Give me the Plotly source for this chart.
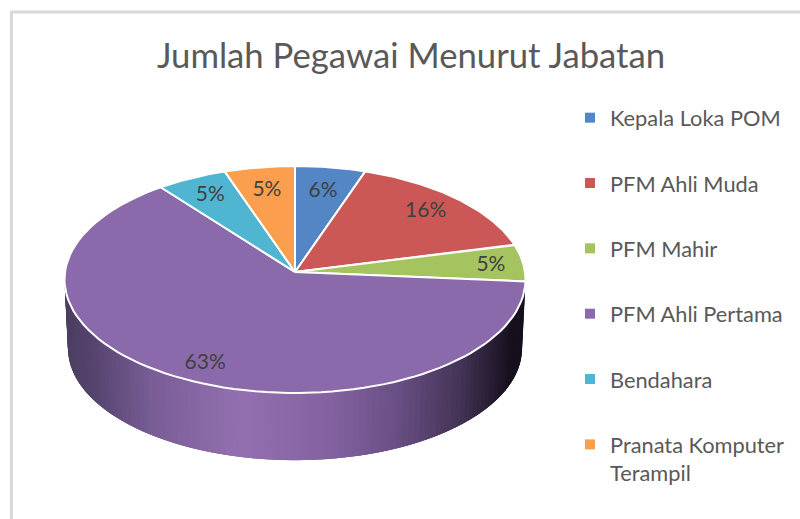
import numpy as np
import plotly.graph_objects as go

# Data
categories = ["Kepala Loka POM", "PFM Ahli Muda", "PFM Mahir", "PFM Ahli Pertama", "Bendahara", "Pranata Komputer<br>Terampil"]
values = [1, 3, 1, 12, 1, 1]
value_labels = ["6%", "16%", "5%", "63%", "5%", "5%"]
colors = ["#5485c4", "#cb5856", "#a5c35f", "#8a6aab", "#50b5d1", "#fb9e4e"]
title = "Jumlah Pegawai Menurut Jabatan"

# Chart geometry (pixel space of the 800x519 canvas)
CX, CY = 295.0, 272.0
A, B, K = 230.0, 113.0, 0.0661
DEPTH, BOTTOM_SCALE = 69.0, 0.985
LABEL_RADIUS = [0.78, 0.80, 0.85, 0.85, 0.80, 0.78]
LABEL_NUDGE_X = [0, 0, 2, 8, -1, 0]
LABEL_NUDGE_Y = [2, -1, 2, 3, 0, 1]
WALL_STOPS = [(64, "#4d3e62"), (90, "#54436c"), (155, "#7a5e98"), (245, "#9470b0"),
              (335, "#8462a2"), (400, "#6a5085"), (465, "#433355"), (515, "#15101c"), (526, "#15101c")]


def project(theta, radius=1.0, scale=1.0, drop=0.0):
    px = radius * np.sin(theta)
    py = radius * np.cos(theta)
    den = 1 + K * py
    return CX + A * scale * px / den, CY + drop - B * scale * py / den


def hex_rgb(h):
    return np.array([int(h[i:i + 2], 16) for i in (1, 3, 5)], dtype=float)


def wall_color(x):
    xs = [s[0] for s in WALL_STOPS]
    rgb = [np.interp(x, xs, [hex_rgb(s[1])[c] for s in WALL_STOPS]) for c in range(3)]
    return "rgb(%d,%d,%d)" % tuple(rgb)


edges = np.concatenate([[0], np.cumsum(values)]) / sum(values) * 2 * np.pi
fig = go.Figure()

# Side wall of the largest slice, shaded in thin overlapping strips
big = int(np.argmax(values))
wall = np.linspace(edges[big], min(edges[big + 1], np.radians(300)), 130)
for i in range(len(wall) - 1):
    t0, t1 = wall[i], wall[min(i + 3, len(wall) - 1)]
    xa, ya = project(np.array([t0, t1]))
    xb, yb = project(np.array([t1, t0]), scale=BOTTOM_SCALE, drop=DEPTH)
    c = wall_color(project(wall[i])[0])
    fig.add_trace(go.Scatter(x=list(xa) + list(xb), y=list(ya) + list(yb), mode="lines", fill="toself",
                             fillcolor=c, line=dict(width=0), showlegend=False, hoverinfo="skip"))

# Top face wedges
for i, cat in enumerate(categories):
    th = np.linspace(edges[i], edges[i + 1], 90)
    ex, ey = project(th)
    fig.add_trace(go.Scatter(x=[CX] + list(ex) + [CX], y=[CY] + list(ey) + [CY], mode="lines", fill="toself",
                             fillcolor=colors[i], line=dict(color="white", width=2),
                             showlegend=False, name=cat, hoverinfo="skip"))

# Legend entries
for i, cat in enumerate(categories):
    fig.add_trace(go.Scatter(x=[None], y=[None], mode="markers", name=cat, legendgroup=cat,
                             marker=dict(symbol="square", size=10, color=colors[i])))

# Value labels
mid = (edges[:-1] + edges[1:]) / 2
lx, ly = project(mid, radius=np.array(LABEL_RADIUS))
fig.add_trace(go.Scatter(x=lx + np.array(LABEL_NUDGE_X), y=ly + np.array(LABEL_NUDGE_Y), mode="text",
                         text=value_labels, textposition="middle center",
                         textfont=dict(family="Lato", size=21, color="#404040"),
                         showlegend=False, hoverinfo="skip"))

fig.update_layout(
    width=800, height=519, margin=dict(l=0, r=0, t=0, b=0),
    paper_bgcolor="white", plot_bgcolor="white",
    title=dict(text=title, x=411 / 800, xanchor="center", y=1 - 56 / 519, yanchor="middle",
               font=dict(family="Lato", size=34.7, color="#595959")),
    xaxis=dict(range=[0, 800], visible=False, fixedrange=True),
    yaxis=dict(range=[519, 0], visible=False, fixedrange=True),
    legend=dict(x=570 / 800, y=1 - 97 / 519, xanchor="left", yanchor="top", tracegroupgap=34, valign="top",
                font=dict(family="Lato", size=21.8, color="#595959"), bgcolor="rgba(0,0,0,0)"),
    shapes=[
        dict(type="line", xref="paper", yref="paper", x0=11.5 / 800, x1=11.5 / 800, y0=0, y1=1 - 11 / 519,
             line=dict(color="#d9d9d9", width=3)),
        dict(type="line", xref="paper", yref="paper", x0=10 / 800, x1=1, y0=1 - 12 / 519, y1=1 - 12 / 519,
             line=dict(color="#d9d9d9", width=3)),
    ],
)
fig.write_html("out.html", config={"displayModeBar": False},
               post_script="document.body.style.margin='0';document.documentElement.style.overflow='hidden';")
